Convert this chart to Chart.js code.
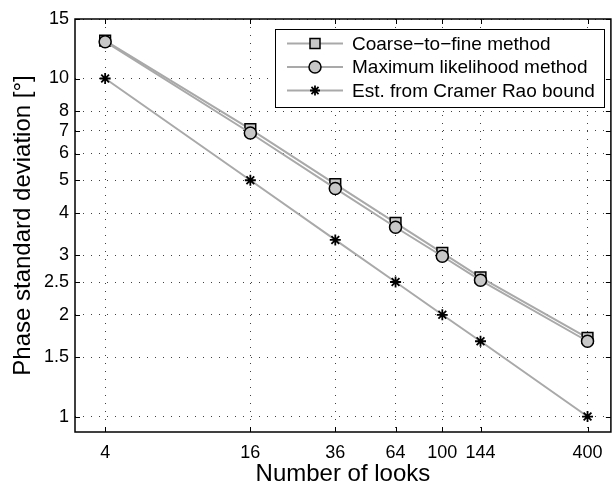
<!DOCTYPE html>
<html>
<head>
<meta charset="utf-8">
<script src="https://cdn.jsdelivr.net/npm/chart.js@4/dist/chart.umd.min.js"></script>
<style>
  html, body { margin: 0; padding: 0; background: #fff; overflow: hidden; }
  #wrap { width: 612px; height: 484px; overflow: hidden; }
  canvas { display: block; }
</style>
</head>
<body>
<div id="wrap"><canvas id="phaseChart" width="620" height="484"></canvas></div>
<script>
// values
const looks = [4, 16, 36, 64, 100, 144, 400];
const coarseToFine = [12.95, 7.08, 4.87, 3.74, 3.05, 2.58, 1.71];
const maxLikelihood = [12.85, 6.9, 4.73, 3.63, 2.98, 2.53, 1.67];
const cramerRao = [10, 5.0, 3.33, 2.5, 2.0, 1.67, 1.0];
const seriesNames = ['Coarse\u2212to\u2212fine method', 'Maximum likelihood method', 'Est. from Cramer Rao bound'];
const xTicks = [4, 16, 36, 64, 100, 144, 400];
const yTicks = [1, 1.5, 2, 2.5, 3, 4, 5, 6, 7, 8, 10, 15];

const FONT = 'Liberation Sans, Arial, Helvetica, sans-serif';
const lineGray = '#a9a9a9';
const markerFill = '#c8c8c8';
const gridDots = 'rgba(0,0,0,0.75)';

function toPoints(values) {
  return looks.map((x, i) => ({ x: x, y: values[i] }));
}

function drawMarker(c, style, x, y) {
  c.save();
  c.strokeStyle = '#000';
  c.fillStyle = markerFill;
  c.beginPath();
  if (style === 'rect') {
    c.lineWidth = 1.5;
    c.rect(x - 5, y - 5, 10, 10);
    c.fill();
    c.stroke();
  } else if (style === 'circle') {
    c.lineWidth = 1.5;
    c.arc(x, y, 6, 0, Math.PI * 2);
    c.fill();
    c.stroke();
  } else {
    c.lineWidth = 1.8;
    for (let k = 0; k < 4; k++) {
      const a = k * Math.PI / 4;
      c.moveTo(x - 5 * Math.cos(a), y - 5 * Math.sin(a));
      c.lineTo(x + 5 * Math.cos(a), y + 5 * Math.sin(a));
    }
    c.stroke();
  }
  c.restore();
}

// box, inward ticks and the legend, matlab style
const matlabFrame = {
  id: 'matlabFrame',
  afterDraw(chart) {
    const c = chart.ctx;
    const a = chart.chartArea;
    const xs = chart.scales.x;
    const ys = chart.scales.y;
    c.save();
    c.strokeStyle = '#000';
    c.lineWidth = 1;
    c.beginPath();
    xTicks.forEach((v) => {
      const px = Math.round(xs.getPixelForValue(v)) + 0.5;
      c.moveTo(px, a.bottom); c.lineTo(px, a.bottom - 5);
      c.moveTo(px, a.top); c.lineTo(px, a.top + 5);
    });
    yTicks.forEach((v) => {
      const py = Math.round(ys.getPixelForValue(v)) + 0.5;
      c.moveTo(a.left, py); c.lineTo(a.left + 5, py);
      c.moveTo(a.right, py); c.lineTo(a.right - 5, py);
    });
    c.stroke();
    c.lineWidth = 1.5;
    c.strokeRect(a.left, a.top, a.right - a.left, a.bottom - a.top);

    // legend box
    const lx = 275, ly = 29, lw = 329, lh = 78;
    c.fillStyle = '#fff';
    c.fillRect(lx, ly, lw, lh);
    c.lineWidth = 1;
    c.strokeRect(lx + 0.5, ly + 0.5, lw, lh);
    c.font = '19px ' + FONT;
    c.textBaseline = 'middle';
    c.textAlign = 'left';
    chart.data.datasets.forEach((ds, i) => {
      const ry = ly + 14.5 + i * 23.5;
      c.strokeStyle = ds.borderColor;
      c.lineWidth = ds.borderWidth;
      c.beginPath();
      c.moveTo(lx + 12, ry); c.lineTo(lx + 68, ry);
      c.stroke();
      drawMarker(c, ds.pointStyle, lx + 40, ry);
      c.fillStyle = '#000';
      c.fillText(ds.label, lx + 77, ry + 1);
    });
    c.restore();
  }
};

const ctx = document.getElementById('phaseChart').getContext('2d');

const phaseChart = new Chart(ctx, {
  type: 'line',
  data: {
    datasets: [
      {
        label: seriesNames[0],
        data: toPoints(coarseToFine),
        borderColor: lineGray,
        borderWidth: 2,
        pointStyle: 'rect',
        pointRadius: 7.6,
        pointBackgroundColor: markerFill,
        pointBorderColor: '#000',
        pointBorderWidth: 1.5,
        order: 2,
      },
      {
        label: seriesNames[1],
        data: toPoints(maxLikelihood),
        borderColor: lineGray,
        borderWidth: 2,
        pointStyle: 'circle',
        pointRadius: 6,
        pointBackgroundColor: markerFill,
        pointBorderColor: '#000',
        pointBorderWidth: 1.5,
        order: 1,
      },
      {
        label: seriesNames[2],
        data: toPoints(cramerRao),
        borderColor: lineGray,
        borderWidth: 2,
        pointStyle: 'star',
        pointRadius: 5.5,
        pointBackgroundColor: '#000',
        pointBorderColor: '#000',
        pointBorderWidth: 1.8,
        order: 3,
      },
    ],
  },
  options: {
    responsive: false,
    animation: false,
    devicePixelRatio: 1,
    layout: { padding: { left: 0, right: 7, top: 19, bottom: 0 } },
    plugins: {
      legend: { display: false },
      tooltip: { enabled: false },
    },
    scales: {
      x: {
        type: 'logarithmic',
        min: 3,
        max: 500,
        afterBuildTicks: (scale) => { scale.ticks = xTicks.map((v) => ({ value: v })); },
        afterFit: (scale) => { scale.height = 52; },
        ticks: {
          autoSkip: false,
          maxRotation: 0,
          padding: 10,
          color: '#000',
          font: { family: FONT, size: 18 },
          callback: (v) => String(v),
        },
        grid: { color: gridDots, lineWidth: 1, drawTicks: false, tickLength: 0 },
        border: { display: false, dash: [1, 7] },
        title: {
          display: true,
          text: 'Number of looks',
          color: '#000',
          font: { family: FONT, size: 24, lineHeight: 0.8 },
          padding: { top: 0, bottom: 0 },
        },
      },
      y: {
        type: 'logarithmic',
        min: 0.9,
        max: 15,
        afterBuildTicks: (scale) => { scale.ticks = yTicks.map((v) => ({ value: v })); },
        afterFit: (scale) => { scale.width = 75; },
        ticks: {
          autoSkip: false,
          padding: 6,
          color: '#000',
          font: { family: FONT, size: 18 },
          callback: (v) => String(v),
        },
        grid: { color: gridDots, lineWidth: 1, drawTicks: false, tickLength: 0 },
        border: { display: false, dash: [1, 7] },
        title: {
          display: true,
          text: 'Phase standard deviation [\u00b0]',
          color: '#000',
          font: { family: FONT, size: 24, lineHeight: 1 },
          padding: { top: 11.5, bottom: 0 },
        },
      },
    },
  },
  plugins: [matlabFrame],
});
</script>
</body>
</html>
